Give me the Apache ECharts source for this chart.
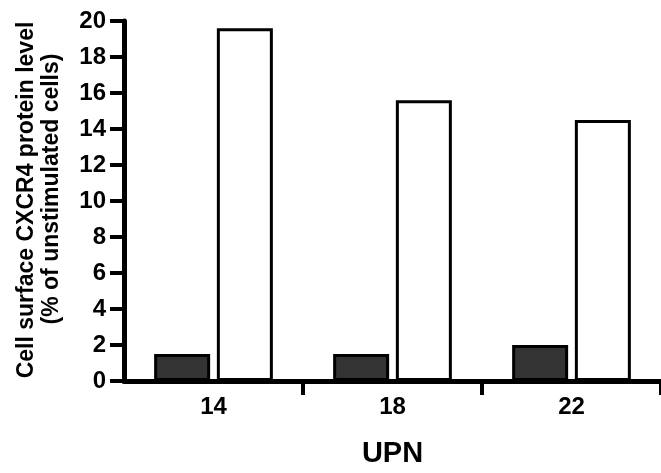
<!DOCTYPE html>
<html>
<head>
<meta charset="utf-8">
<script src="https://cdn.jsdelivr.net/npm/echarts@6/dist/echarts.min.js"></script>
<style>
  html, body { margin: 0; padding: 0; background: #ffffff; }
  #chart { width: 661px; height: 473px; }
</style>
</head>
<body>
<div id="chart"></div>
<script>
// Patient identifiers (UPN) on the x axis
const categories = ['14', '18', '22'];
// Surface CXCR4, % of unstimulated cells
const filledValues = [1.5, 1.5, 2.0];
const openValues = [19.6, 15.6, 14.5];
// Y axis ticks
const yMin = 0;
const yMax = 20;
const yStep = 2;

const FONT = 'Liberation Sans, Arial, Helvetica, sans-serif';

const chart = echarts.init(document.getElementById('chart'), null, { renderer: 'canvas' });

chart.setOption({
  backgroundColor: '#ffffff',
  animation: false,
  grid: { left: 124, top: 21, width: 543, height: 361, containLabel: false },
  xAxis: {
    type: 'category',
    data: categories,
    boundaryGap: true,
    name: 'UPN',
    nameLocation: 'middle',
    nameGap: 58,
    nameTextStyle: { fontFamily: FONT, fontWeight: 'bold', fontSize: 29, color: '#000' },
    axisLine: { show: true, lineStyle: { color: '#000', width: 5 } },
    axisTick: {
      show: true,
      length: 14,
      lineStyle: { color: '#000', width: 4 },
      interval: function (index) { return index !== 0; }
    },
    axisLabel: { fontFamily: FONT, fontWeight: 'bold', fontSize: 24, color: '#000', margin: 14 },
    splitLine: { show: false }
  },
  yAxis: {
    type: 'value',
    min: yMin,
    max: yMax,
    interval: yStep,
    axisLine: { show: true, lineStyle: { color: '#000', width: 5 } },
    axisTick: { show: true, length: 14, lineStyle: { color: '#000', width: 4 } },
    axisLabel: { fontFamily: FONT, fontWeight: 'bold', fontSize: 24, color: '#000', margin: 18 },
    splitLine: { show: false }
  },
  graphic: [
    {
      type: 'text',
      x: 27, y: 200,
      rotation: Math.PI / 2,
      style: {
        text: 'Cell surface CXCR4 protein level',
        font: 'bold 23px ' + FONT,
        fill: '#000',
        align: 'center',
        verticalAlign: 'middle'
      }
    },
    {
      type: 'text',
      x: 52, y: 189,
      rotation: Math.PI / 2,
      style: {
        text: '(% of unstimulated cells)',
        font: 'bold 23px ' + FONT,
        fill: '#000',
        align: 'center',
        verticalAlign: 'middle'
      }
    }
  ],
  series: [
    {
      name: 'Filled',
      type: 'bar',
      data: filledValues,
      barWidth: 56,
      barGap: '12%',
      itemStyle: { color: '#333333', borderColor: '#000', borderWidth: 3 }
    },
    {
      name: 'Open',
      type: 'bar',
      data: openValues,
      barWidth: 56,
      barGap: '12%',
      itemStyle: { color: '#ffffff', borderColor: '#000', borderWidth: 3 }
    }
  ]
});
</script>
</body>
</html>
